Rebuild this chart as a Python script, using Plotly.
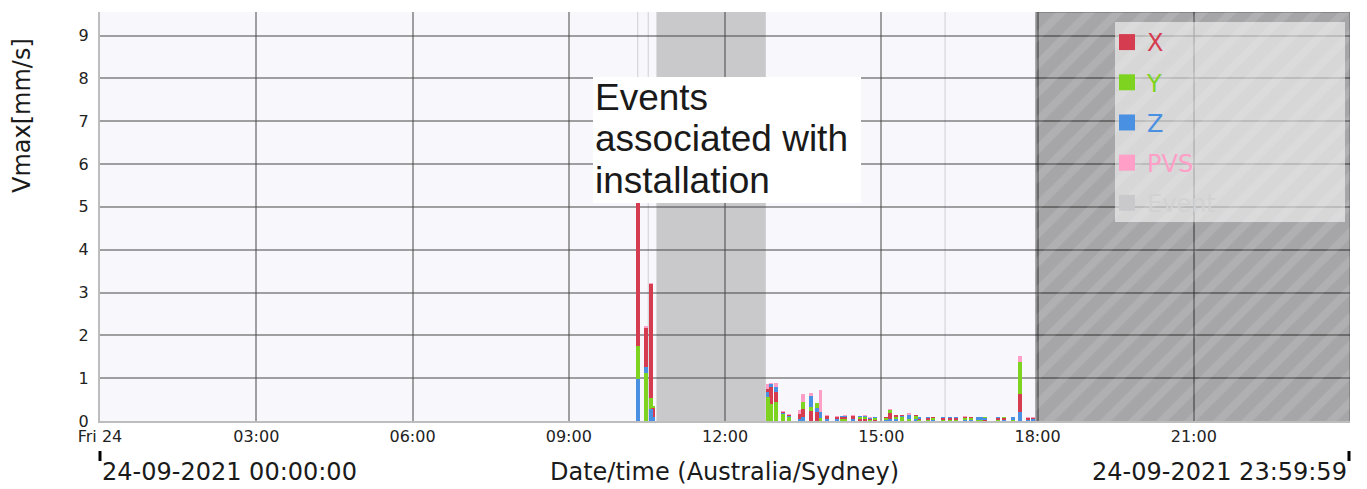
import pandas as pd
import plotly.graph_objects as go

DAY = "2021-09-24"

# ---- data ----
bar_times = ["10:20", "10:29", "10:35", "10:37",
             "12:49", "12:53", "12:59", "13:07", "13:14", "13:26", "13:30", "13:39",
             "13:46", "13:50", "13:58", "14:09", "14:15", "14:18", "14:28", "14:36",
             "14:41", "14:47", "14:53", "15:05", "15:10", "15:17", "15:24", "15:32",
             "15:40", "15:43", "15:54", "16:00", "16:11", "16:19", "16:26", "16:37",
             "16:43", "16:52", "16:56", "17:00", "17:14", "17:21", "17:32", "17:40",
             "17:49", "17:55"]
vx = [6.80, 2.18, 3.20, 0.31,
      0.75, 0.79, 0.67, 0.21, 0.14, 0.16, 0.28, 0.23,
      0.20, 0.08, 0.11, 0.09, 0.09, 0.09, 0.12, 0.03,
      0.03, 0.03, 0.02, 0.09, 0.19, 0.14, 0.14, 0.04,
      0.14, 0.03, 0.08, 0.09, 0.08, 0.08, 0.08, 0.10,
      0.09, 0.02, 0.02, 0.02, 0.07, 0.08, 0.02, 0.63,
      0.08, 0.07]
vy = [1.74, 1.11, 0.53, 0.35,
      0.55, 0.39, 0.44, 0.16, 0.10, 0.05, 0.44, 0.33,
      0.42, 0.06, 0.12, 0.04, 0.03, 0.04, 0.05, 0.10,
      0.09, 0.02, 0.07, 0.07, 0.26, 0.09, 0.09, 0.03,
      0.12, 0.02, 0.02, 0.08, 0.02, 0.02, 0.02, 0.08,
      0.07, 0.02, 0.02, 0.09, 0.02, 0.09, 0.02, 1.38,
      0.02, 0.08]
vz = [0.98, 1.25, 0.27, 0.10,
      0.67, 0.86, 0.79, 0.19, 0.12, 0.04, 0.10, 0.58,
      0.30, 0.20, 0.05, 0.03, 0.11, 0.12, 0.04, 0.11,
      0.12, 0.07, 0.09, 0.02, 0.05, 0.03, 0.11, 0.14,
      0.04, 0.09, 0.09, 0.02, 0.09, 0.09, 0.09, 0.02,
      0.02, 0.09, 0.09, 0.08, 0.09, 0.02, 0.09, 0.22,
      0.02, 0.05]
vpvs = [6.90, 2.21, 3.22, 0.36,
        0.86, 0.89, 0.89, 0.23, 0.16, 0.26, 0.63, 0.65,
        0.43, 0.72, 0.14, 0.11, 0.12, 0.13, 0.14, 0.12,
        0.13, 0.09, 0.10, 0.10, 0.28, 0.15, 0.15, 0.19,
        0.15, 0.10, 0.10, 0.10, 0.10, 0.10, 0.10, 0.12,
        0.10, 0.10, 0.10, 0.10, 0.10, 0.10, 0.10, 1.52,
        0.09, 0.09]

event_starts = ["10:19:00", "10:31:00", "10:41:00", "16:13:00"]
event_ends = ["10:20:00", "10:32:00", "12:47:00", "16:14:00"]
offline_start = "17:58:00"
offline_end = "23:59:59"

series_names = ["X", "Y", "Z", "PVS"]
series_colors = {"X": "#d63c50", "Y": "#7ed321", "Z": "#4a90e2", "PVS": "#ff9ec6"}
event_color = "#c9c9cc"

tick_times = ["00:00", "03:00", "06:00", "09:00", "12:00", "15:00", "18:00", "21:00"]
tick_labels = ["Fri 24", "03:00", "06:00", "09:00", "12:00", "15:00", "18:00", "21:00"]

y_max = 9.55
bar_width_ms = 4.6 * 60 * 1000

# ---- build ----
def ts(t):
    return pd.Timestamp(f"{DAY} {t}")

xs = [ts(t) for t in bar_times]
series = {"X": vx, "Y": vy, "Z": vz, "PVS": vpvs}

fig = go.Figure()

# overlaid bars: largest drawn first so smaller values stay visible in front
layers = [[] for _ in range(4)]
for i in range(len(xs)):
    ranked = sorted(series_names, key=lambda n: series[n][i], reverse=True)
    for k, n in enumerate(ranked):
        layers[k].append((series[n][i], series_colors[n]))
for k in range(4):
    fig.add_trace(go.Bar(
        x=xs, y=[v for v, _ in layers[k]],
        marker=dict(color=[c for _, c in layers[k]], line=dict(width=0)),
        width=bar_width_ms, showlegend=False, hoverinfo="skip"))

# offline (hatched) area
fig.add_trace(go.Scatter(
    x=[ts(offline_start), ts(offline_start), ts(offline_end), ts(offline_end)],
    y=[0, y_max, y_max, 0], mode="lines", fill="toself",
    line=dict(color="rgba(0,0,0,0.25)", width=1.5),
    fillcolor="rgba(0,0,0,0.32)",
    fillpattern=dict(shape="/", bgcolor="rgba(0,0,0,0.33)",
                     fgcolor="rgba(255,255,255,0.2)", size=20, solidity=0.4),
    showlegend=False, hoverinfo="skip"))

# legend entries
for n in series_names + ["Event"]:
    col = series_colors.get(n, event_color)
    tcol = col if n != "Event" else "#d2d2d2"
    fig.add_trace(go.Scatter(
        x=[None], y=[None], mode="markers",
        marker=dict(symbol="square", size=16, color=col),
        name=f"<span style='color:{tcol}'>{n}</span>", legendgroup=n))

shapes = []
for s, e in zip(event_starts, event_ends):
    shapes.append(dict(type="rect", xref="x", yref="paper", x0=ts(s), x1=ts(e),
                       y0=0, y1=1, fillcolor=event_color, line=dict(width=0),
                       layer="below"))
# legend background
shapes.append(dict(type="rect", xref="paper", yref="paper", x0=0.812, x1=0.996,
                   y0=0.4866, y1=0.9756, fillcolor="rgba(255,255,255,0.55)",
                   line=dict(width=0), layer="above"))
# annotation box
shapes.append(dict(type="rect", xref="paper", yref="paper", x0=0.3944, x1=0.6088,
                   y0=0.533, y1=0.841, fillcolor="white", line=dict(width=0),
                   layer="above"))
# range end markers
for xp in [0.0, 0.9992]:
    shapes.append(dict(type="line", xref="paper", yref="paper", x0=xp, x1=xp,
                       y0=-0.0733, y1=-0.0978, line=dict(color="black", width=3)))

note_lines = ["Events", "associated with", "installation"]
note_y = [0.791, 0.6895, 0.5868]
annotations = []
for txt, yy in zip(note_lines, note_y):
    annotations.append(dict(text=txt, xref="paper", yref="paper", x=0.3944, y=yy,
                            xanchor="left", yanchor="middle", showarrow=False,
                            font=dict(family="Liberation Sans, Arial", size=37,
                                      color="#1a1a1a")))
bottom_font = dict(family="DejaVu Sans", size=24, color="#1a1a1a")
annotations += [
    dict(text="24-09-2021 00:00:00", xref="paper", yref="paper", x=0.0, y=-0.124,
         xanchor="left", yanchor="middle", showarrow=False, font=bottom_font),
    dict(text="Date/time (Australia/Sydney)", xref="paper", yref="paper", x=0.4996,
         y=-0.124, xanchor="center", yanchor="middle", showarrow=False, font=bottom_font),
    dict(text="24-09-2021 23:59:59", xref="paper", yref="paper", x=0.9992, y=-0.124,
         xanchor="right", yanchor="middle", showarrow=False, font=bottom_font),
    dict(text="Vmax[mm/s]", xref="paper", yref="paper", x=-0.0624, y=0.7457,
         xanchor="center", yanchor="middle", textangle=-90, showarrow=False,
         font=bottom_font),
]

fig.update_layout(
    width=1367, height=489,
    margin=dict(l=100, r=17, t=12, b=68),
    paper_bgcolor="white", plot_bgcolor="#f8f8fc",
    barmode="overlay", bargap=0,
    shapes=shapes, annotations=annotations,
    showlegend=True,
    legend=dict(x=0.8056, y=0.9805, xanchor="left", yanchor="top",
                bgcolor="rgba(0,0,0,0)", borderwidth=0,
                font=dict(family="DejaVu Sans", size=24),
                tracegroupgap=6, traceorder="grouped", itemsizing="trace"),
    font=dict(family="DejaVu Sans", color="#222"),
)
fig.update_xaxes(
    range=[ts("00:00:00"), ts("23:59:59")], type="date",
    tickvals=[ts(t) for t in tick_times], ticktext=tick_labels,
    tickfont=dict(family="DejaVu Sans", size=16, color="#222"),
    showgrid=True, gridcolor="rgba(70,70,70,0.5)", gridwidth=1.5,
    showline=True, linecolor="#bdbdbd", linewidth=2, zeroline=False, ticks="",
    automargin=False)
fig.update_yaxes(
    range=[0, y_max], dtick=1, tick0=0,
    tickfont=dict(family="DejaVu Sans", size=16, color="#222"),
    showgrid=True, gridcolor="rgba(70,70,70,0.5)", gridwidth=1.5,
    showline=True, linecolor="#bdbdbd", linewidth=2, zeroline=False,
    ticks="", ticklabelstandoff=6, automargin=False)

# remove the page's default 8px body margin so the 1367x489 figure fills the window
fig.write_html("out.html",
               config={"displayModeBar": False},
               post_script="document.body.style.margin='0';"
                           "document.body.style.overflow='hidden';")
